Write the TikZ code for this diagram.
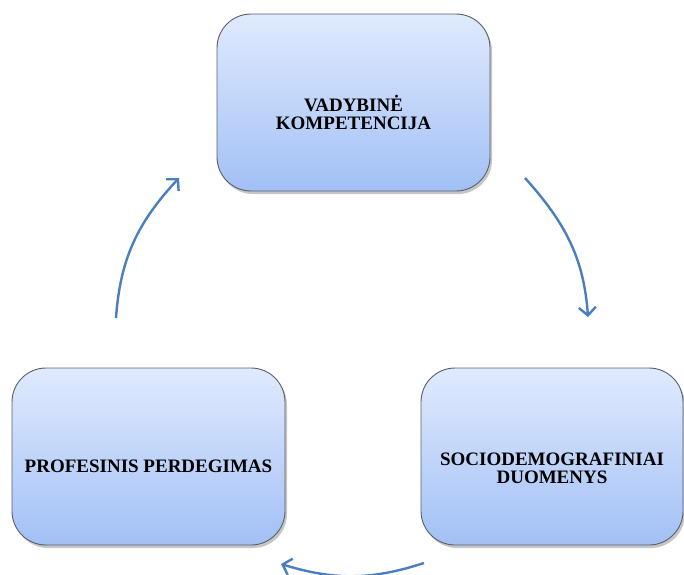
\documentclass[tikz,border=0pt]{standalone}
\usepackage{fontspec}
\setmainfont{Liberation Serif}
\usepackage{tikz}
\usetikzlibrary{arrows.meta, shadows, positioning}
\definecolor{boxTop}{HTML}{E0EAFD}
\definecolor{boxBottom}{HTML}{A2C0F6}
\definecolor{boxLine}{HTML}{5A5F66}
\definecolor{arrowBlue}{HTML}{4A7EBF}
\tikzstyle{roundBox} = [
        rectangle,
        rounded corners=34pt,
        minimum width=273pt,
        minimum height=177pt,
        top color=boxTop,
        bottom color=boxBottom,
        draw=boxLine,
        line width=0.9pt,
        align=center,
        text depth=0pt,
        text height=53pt,
        font=\bfseries\fontsize{19}{18}\selectfont,
        drop shadow={shadow xshift=2pt, shadow yshift=-3pt, opacity=0.45}
    ]
\tikzstyle{cycleArrow} = [draw=arrowBlue, line width=2.4pt, -{Straight Barb[length=8pt,width=17pt]}]

\begin{document}
\begin{tikzpicture}[x=1pt, y=1pt]
                        \useasboundingbox (0,0) rectangle (684,-574);
                        \node (vad) [roundBox] at (353.5,-102.5) {VADYBINĖ\\KOMPETENCIJA};
                        \node (prof) [roundBox, text height=31pt] at (148.5,-456.5) {PROFESINIS PERDEGIMAS};
                        \node (socio) [roundBox, minimum width=262pt] at (552,-456.5) {SOCIODEMOGRAFINIAI\\DUOMENYS};
                        \coordinate (rStart) at (525,-178);
                        \coordinate (rEnd) at (588,-317);
                        \coordinate (bStart) at (424,-563);
                        \coordinate (bEnd) at (281,-564);
                        \coordinate (lStart) at (116,-318);
                        \coordinate (lEnd) at (179,-178);
                        \draw [cycleArrow] (rStart) to [out = -48, in = 94] (rEnd);
                        \draw [cycleArrow] (bStart) to [out = 198, in = -17] (bEnd);
                        \draw [cycleArrow] (lStart) to [out = 86, in = 227] (lEnd);
                    \end{tikzpicture}
\end{document}
